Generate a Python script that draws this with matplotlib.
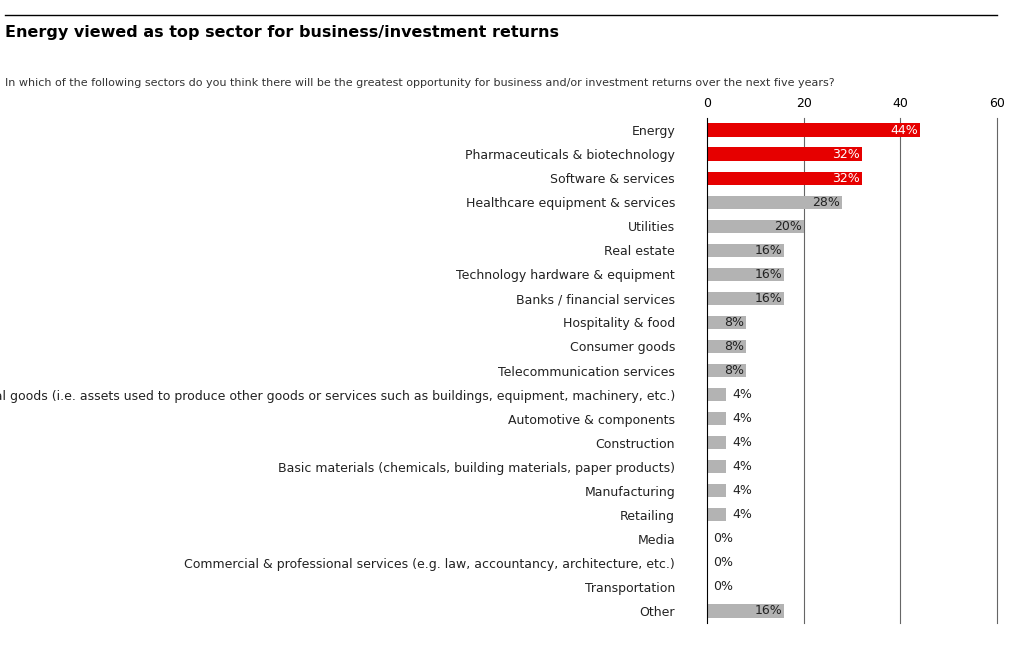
import matplotlib.pyplot as plt

sectors = ['Energy', 'Pharmaceuticals & biotechnology', 'Software & services',
           'Healthcare equipment & services', 'Utilities', 'Real estate',
           'Technology hardware & equipment', 'Banks / financial services',
           'Hospitality & food', 'Consumer goods', 'Telecommunication services',
           'Capital goods (i.e. assets used to produce other goods or services such as buildings, equipment, machinery, etc.)',
           'Automotive & components', 'Construction',
           'Basic materials (chemicals, building materials, paper products)',
           'Manufacturing', 'Retailing', 'Media',
           'Commercial & professional services (e.g. law, accountancy, architecture, etc.)',
           'Transportation', 'Other']
values = [44, 32, 32, 28, 20, 16, 16, 16, 8, 8, 8, 4, 4, 4, 4, 4, 4, 0, 0, 0, 16]
highlight = 3

narrow = ['Liberation Sans Narrow', 'DejaVu Sans']
plt.rcParams['font.family'] = narrow

fig = plt.figure(figsize=(10.24, 6.53), dpi=100)
fig.add_artist(plt.Line2D([5/1024, 997/1024], [1-15/653, 1-15/653], color='black', lw=1))
fig.text(5/1024, 1-33/653, 'Energy viewed as top sector for business/investment returns',
         fontsize=11.5, fontweight='bold', va='center', family='DejaVu Sans')
fig.text(5/1024, 1-83/653, 'In which of the following sectors do you think there will be the greatest opportunity for business and/or investment returns over the next five years?',
         fontsize=8, va='center', color='#333333')

ax = fig.add_axes([707/1024, 1-623/653, 290/1024, 505/653])
y = list(range(len(sectors)))
colors = ['#e60000' if i < highlight else '#b3b3b3' for i in y]
ax.barh(y, values, height=0.55, color=colors, zorder=3)
for i, v in enumerate(values):
    if v >= 8:
        ax.text(v - 0.4, i, f'{v}%', ha='right', va='center', fontsize=9,
                color='white' if i < highlight else '#222222', zorder=4)
    else:
        ax.text(v + 1.2, i, f'{v}%', ha='left', va='center', fontsize=9, color='#222222', zorder=4)
ax.set_xlim(0, 60)
ax.set_ylim(len(sectors) - 0.5, -0.5)
ax.set_yticks(y)
ax.set_yticklabels(sectors, fontsize=9, color='#222222')
ax.tick_params(axis='y', length=0, pad=23)
ax.xaxis.tick_top()
ax.set_xticks([0, 20, 40, 60])
ax.tick_params(axis='x', length=0, labelsize=9, pad=6)
for x in [20, 40, 60]:
    ax.axvline(x, color='#666666', lw=0.8, zorder=1, clip_on=False)
for s in ['top', 'right', 'bottom']:
    ax.spines[s].set_visible(False)
ax.spines['left'].set_color('black')
ax.spines['left'].set_zorder(5)

fig.savefig('out.png', dpi=100)
